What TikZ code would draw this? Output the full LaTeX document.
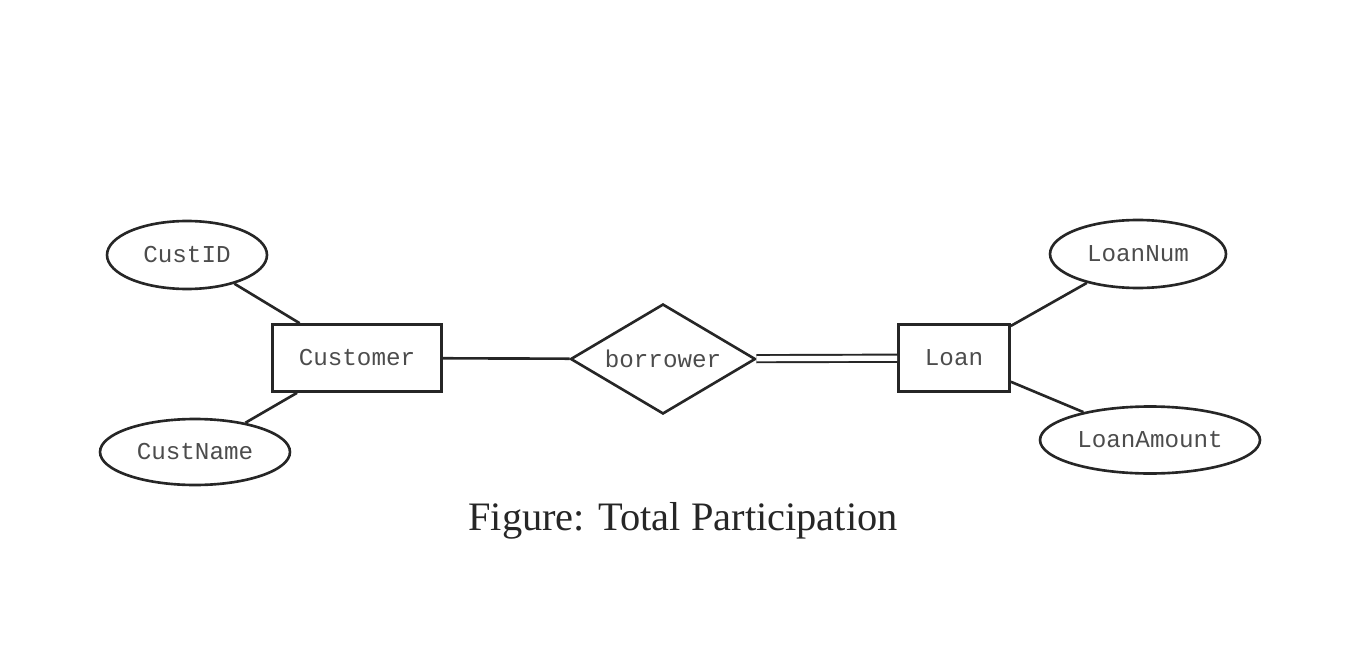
\documentclass[tikz,border=0pt]{standalone}
\usepackage{fontspec}
\setmonofont{Liberation Mono}
\newfontfamily\captionfont{Liberation Serif}
\usepackage{tikz}
\usetikzlibrary{shapes.geometric, positioning}
\tikzset{
  entity/.style={rectangle, draw=black!85, line width=1.5pt, minimum height=1.34cm, text=black!70, font=\ttfamily\fontsize{13.8}{16}\selectfont},
  attribute/.style={ellipse, draw=black!85, line width=1.5pt, minimum height=1.34cm, inner sep=0pt, text=black!70, font=\ttfamily\fontsize{13.8}{16}\selectfont},
  relation/.style={diamond, aspect=1.67, draw=black!85, line width=1.5pt, minimum width=3.7cm, minimum height=2.2cm, inner sep=0pt, text=black!70, font=\ttfamily\fontsize{13.8}{16}\selectfont},
  link/.style={draw=black!85, line width=1.5pt},
  total/.style={draw=black!85, line width=1.1pt, double, double distance=3pt}
}

\begin{document}
\begin{tikzpicture}[x=0.02cm, y=-0.02cm]

    \useasboundingbox (0,0) rectangle (1364,655);

    % Entidades y relacion
    \node[entity, minimum width=3.38cm] (customer) at (357,358) {Customer};
    \node[relation] (borrower) at (663,359) {borrower};
    \node[entity, minimum width=2.22cm] (loan) at (954,358) {Loan};

    % Atributos de Customer
    \node[attribute, minimum width=3.2cm, minimum height=1.36cm] (custid) at (187,255) {CustID};
    \node[attribute, minimum width=3.8cm, minimum height=1.32cm] (custname) at (195,452) {CustName};

    % Atributos de Loan
    \node[attribute, minimum width=3.52cm, minimum height=1.36cm] (loannum) at (1138,254) {LoanNum};
    \node[attribute, minimum width=4.4cm] (loanamount) at (1150,440) {LoanAmount};

    % Conexiones
    \draw[link] (custid) -- (customer);
    \draw[link] (custname) -- (customer);
    \draw[link] (customer) -- (borrower);
    \draw[total] (borrower) -- (loan);
    \draw[link] (loan) -- (loannum);
    \draw[link] (loan) -- (loanamount);

    % Titulo
    \node[font=\captionfont\fontsize{23}{27}\selectfont, text=black!85] (caption) at (683,521) {Figure: Total Participation};

\end{tikzpicture}
\end{document}
